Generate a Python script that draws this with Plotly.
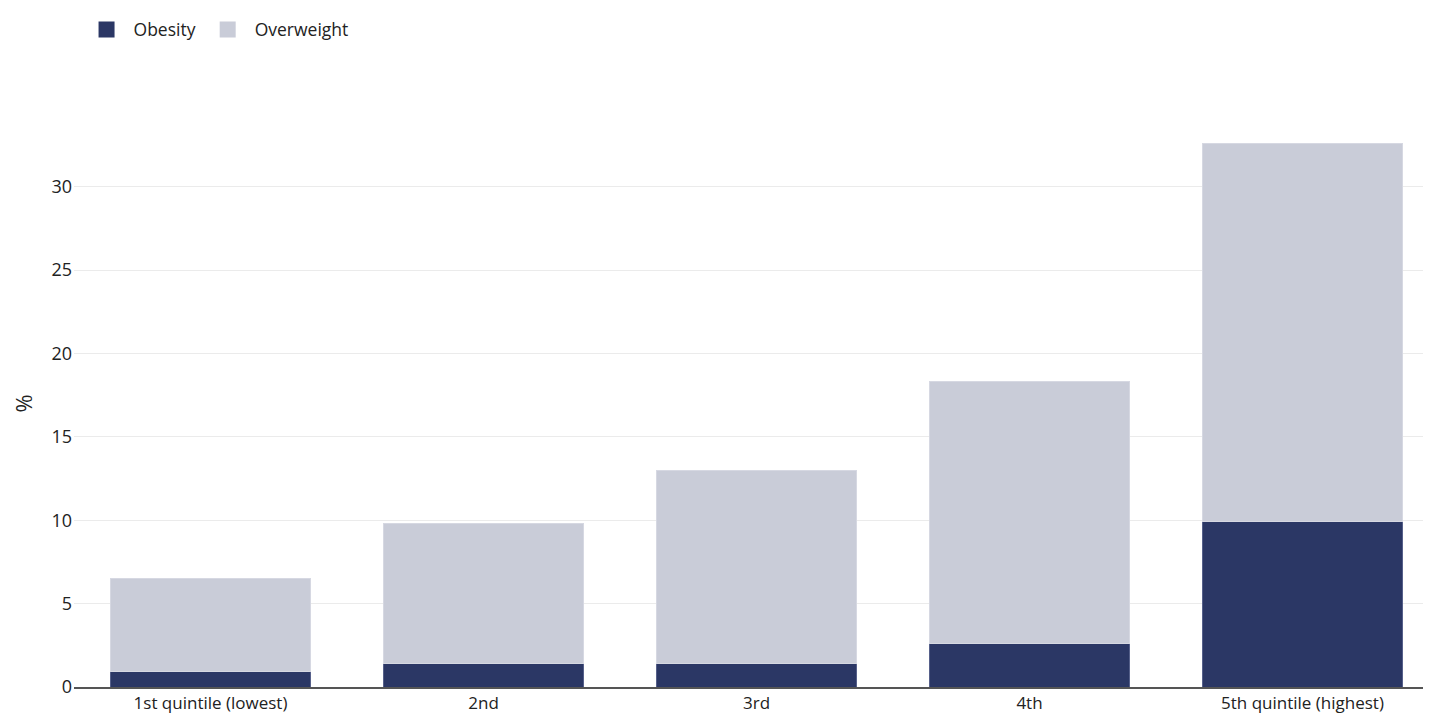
import plotly.graph_objects as go

categories = ["1st quintile (lowest)", "2nd", "3rd", "4th", "5th quintile (highest)"]
obesity = [0.9, 1.4, 1.4, 2.6, 9.9]
overweight = [5.6, 8.4, 11.6, 15.7, 22.7]
y_ticks = [0, 5, 10, 15, 20, 25, 30]

FONT = "'Open Sans', 'Noto Sans', sans-serif"
OB_COLOR = "#2b3765"
OW_COLOR = "#c9ccd8"

fig = go.Figure()
fig.add_trace(go.Bar(
    x=categories, y=obesity, name="Obesity", showlegend=False,
    marker=dict(color=OB_COLOR, line=dict(color="#56608a", width=1)),
))
fig.add_trace(go.Bar(
    x=categories, y=overweight, name="Overweight", showlegend=False,
    marker=dict(color=OW_COLOR, line=dict(color="#d6d8e2", width=1)),
))
# legend entries with larger square swatches
for nm, col in [("Obesity", OB_COLOR), ("Overweight", OW_COLOR)]:
    fig.add_trace(go.Scatter(
        x=[None], y=[None], mode="markers", name=nm,
        marker=dict(symbol="square", size=22, color=col, line=dict(width=0)),
    ))

fig.update_layout(
    barmode="stack",
    bargap=0.265,
    width=1431, height=713,
    margin=dict(l=66, r=0, t=112, b=34),
    paper_bgcolor="white", plot_bgcolor="white",
    font=dict(family=FONT, size=18, color="#222222"),
    legend=dict(
        orientation="h", xref="container", yref="container",
        x=0.05, y=0.995, xanchor="left", yanchor="top",
        font=dict(size=17.5), itemwidth=44, traceorder="normal",
    ),
    xaxis=dict(
        range=[-0.5, 4.5], showgrid=False, ticks="",
        showline=True, linecolor="#555555", linewidth=1.5,
        tickfont=dict(size=17), automargin=False,
    ),
    yaxis=dict(
        range=[0, 34], tickvals=y_ticks, showgrid=True,
        gridcolor="#ebebeb", gridwidth=1, zeroline=False,
        title=dict(text="%", standoff=28), tickfont=dict(size=18),
        ticklabelstandoff=1, automargin=False,
    ),
)

fig.write_html("out.html")
